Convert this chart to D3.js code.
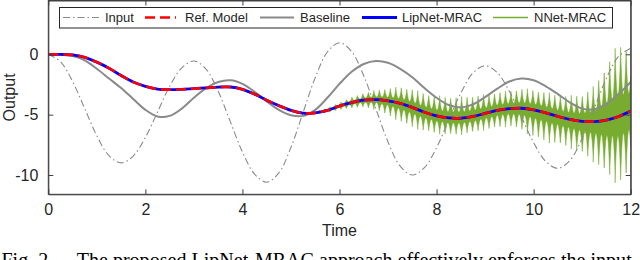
<!DOCTYPE html>
<html><head><meta charset="utf-8">
<script src="https://cdn.jsdelivr.net/npm/d3@7"></script>
<style>
html,body{margin:0;padding:0;background:#fff;overflow:hidden;}
svg{display:block;}
</style></head>
<body>
<svg id="chart" width="640" height="260"></svg>
<script>
// ---- data ----
const time = [0,0.25,0.5,0.75,1,1.25,1.5,1.75,2,2.25,2.5,2.75,3,3.25,3.5,3.75,4,4.25,4.5,4.75,5,5.25,5.5,5.75,6,6.25,6.5,6.75,7,7.25,7.5,7.75,8,8.25,8.5,8.75,9,9.25,9.5,9.75,10,10.25,10.5,10.75,11,11.25,11.5,11.75,12];
const inputSignal = [0,-0.6,-2.25,-4.5,-6.75,-8.4,-9.0,-8.43,-6.89,-4.78,-2.66,-1.12,-0.55,-1.22,-3.06,-5.58,-8.09,-9.93,-10.6,-9.83,-7.71,-4.82,-1.93,0.19,0.96,0.23,-1.78,-4.52,-7.26,-9.27,-10.0,-9.39,-7.73,-5.47,-3.21,-1.55,-0.94,-1.51,-3.07,-5.2,-7.32,-8.88,-9.45,-8.78,-6.96,-4.48,-1.99,-0.17,0.5];
const refModel = [0,-0.01,-0.05,-0.25,-0.65,-1.15,-1.75,-2.3,-2.65,-2.88,-2.93,-2.9,-2.84,-2.78,-2.72,-2.71,-2.9,-3.3,-3.8,-4.25,-4.65,-4.88,-4.85,-4.65,-4.28,-4.0,-3.8,-3.75,-3.85,-4.06,-4.4,-4.8,-5.1,-5.27,-5.3,-5.15,-4.9,-4.65,-4.5,-4.47,-4.6,-4.85,-5.15,-5.4,-5.55,-5.57,-5.45,-5.15,-4.7];
const baseline = [0,-0.02,-0.15,-0.5,-1.2,-2.0,-2.8,-3.7,-4.6,-5.15,-5.1,-4.5,-3.6,-2.8,-2.3,-2.15,-2.45,-3.1,-3.9,-4.6,-5.05,-5.1,-4.6,-3.6,-2.45,-1.45,-0.8,-0.55,-0.7,-1.2,-1.9,-2.8,-3.6,-4.2,-4.4,-4.15,-3.55,-2.85,-2.25,-2.0,-2.15,-2.65,-3.3,-4.0,-4.5,-4.55,-4.1,-3.3,-2.3];
const lipNet = refModel.slice();
// NNet-MRAC: tracks the reference, then a fast oscillation; its envelope is read below
const nnetTime   = [4.9,5.25,5.5,5.75,6,6.25,6.5,6.75,7,7.25,7.5,7.75,8,8.25,8.5,8.75,9,9.25,9.5,9.75,10,10.25,10.5,10.75,11,11.25,11.5,11.75,12];
const nnetTop    = [-4.57,-4.83,-4.73,-4.45,-4.0,-3.55,-3.2,-2.95,-2.8,-2.68,-2.85,-3.2,-3.4,-3.5,-3.5,-3.4,-3.3,-3.1,-3.0,-2.8,-2.9,-3.1,-3.35,-3.4,-3.3,-2.6,-0.8,1.0,0.6];
const nnetBottom = [-4.57,-4.93,-4.97,-4.85,-4.6,-4.45,-4.4,-4.6,-5.1,-5.6,-6.1,-6.4,-6.6,-6.7,-6.7,-6.5,-6.3,-6.1,-6.0,-6.3,-6.9,-7.3,-7.5,-7.8,-8.3,-9.0,-10.0,-10.9,-10.0];
const nnetBeatPeriod = 0.113;
const xTicks = [0,2,4,6,8,10,12];
const yTicks = [-10,-5,0];
const legendLabels = ["Input","Ref. Model","Baseline","LipNet-MRAC","NNet-MRAC"];

// ---- layout ----
const svg = d3.select("#chart");
const L = 48.3, R = 630.7, T = 0.5, B = 194.3;
const x = d3.scaleLinear().domain([0,12]).range([L,R]);
const y = d3.scaleLinear().domain([-11.6,4.5]).range([B,0]);
const font = "'Liberation Sans', Arial, Helvetica, sans-serif";
const axisCol = "#404040", textCol = "#262626";
const grayCol = "#8a8a8a", redCol = "#ff0000", blueCol = "#0000ff", greenCol = "#77ac30";

svg.append("defs").append("clipPath").attr("id","clip")
  .append("rect").attr("x",L).attr("y",T).attr("width",R-L).attr("height",B-T);

const plot = svg.append("g").attr("clip-path","url(#clip)");
const line = d3.line().x(d=>x(d[0])).y(d=>y(d[1])).curve(d3.curveCatmullRom.alpha(0.5));
const zipT = arr => time.map((t,i)=>[t,arr[i]]);

// NNet band: envelope from the arrays, modulated by the visible beat (pointed teeth)
const topS = d3.scaleLinear().domain(nnetTime).range(nnetTop).clamp(true);
const botS = d3.scaleLinear().domain(nnetTime).range(nnetBottom).clamp(true);
const refS = d3.scaleLinear().domain(time).range(refModel);
const band = [];
for(let t=nnetTime[0]; t<=12.0001; t+=0.004){
  const ph = Math.abs(Math.sin(Math.PI*(t-nnetTime[0])/nnetBeatPeriod));
  const m = 1 - 0.72*Math.pow(ph,0.7);
  const c = refS(t);
  band.push({t, hi: c + (topS(t)-c)*m, lo: c - (c-botS(t))*m});
}
plot.append("path").attr("d", d3.area().x(d=>x(d.t)).y0(d=>y(d.lo)).y1(d=>y(d.hi))(band))
  .attr("fill",greenCol).attr("stroke",greenCol).attr("stroke-width",0.5);
plot.append("path").attr("d",line(zipT(refModel).filter(d=>d[0]<=5))).attr("fill","none")
  .attr("stroke",greenCol).attr("stroke-width",1.2);

plot.append("path").attr("d",line(zipT(inputSignal))).attr("fill","none")
  .attr("stroke",grayCol).attr("stroke-width",1.1).attr("stroke-dasharray","7,3,1.5,3");
plot.append("path").attr("d",line(zipT(baseline))).attr("fill","none")
  .attr("stroke",grayCol).attr("stroke-width",2);
plot.append("path").attr("d",line(zipT(lipNet))).attr("fill","none")
  .attr("stroke",blueCol).attr("stroke-width",2.8);
plot.append("path").attr("d",line(zipT(refModel))).attr("fill","none")
  .attr("stroke",redCol).attr("stroke-width",2.6).attr("stroke-dasharray","10,5");

// ---- axes (box with inward ticks) ----
const tl = 5;
const fmt = d => String(d);
const gB = svg.append("g").attr("transform",`translate(0,${B})`)
  .call(d3.axisBottom(x).tickValues(xTicks).tickSizeInner(-tl).tickSizeOuter(0).tickPadding(9).tickFormat(fmt));
const gT = svg.append("g").attr("transform",`translate(0,${T})`)
  .call(d3.axisTop(x).tickValues(xTicks).tickSizeInner(-tl).tickSizeOuter(0).tickFormat(""));
const gL = svg.append("g").attr("transform",`translate(${L},0)`)
  .call(d3.axisLeft(y).tickValues(yTicks).tickSizeInner(-tl).tickSizeOuter(0).tickPadding(10).tickFormat(fmt));
const gR = svg.append("g").attr("transform",`translate(${R},0)`)
  .call(d3.axisRight(y).tickValues(yTicks).tickSizeInner(-tl).tickSizeOuter(0).tickFormat(""));
[gB,gT,gL,gR].forEach(g=>{
  g.selectAll(".domain").attr("stroke",axisCol).attr("stroke-width",1);
  g.selectAll(".tick line").attr("stroke",axisCol).attr("stroke-width",1);
  g.selectAll("text").attr("fill",textCol).style("font-family",font).style("font-size","16px");
});
svg.append("rect").attr("x",L).attr("y",T).attr("width",R-L).attr("height",B-T)
  .attr("fill","none").attr("stroke",axisCol).attr("stroke-width",1);

svg.append("text").attr("x",(L+R)/2).attr("y",235.8).attr("text-anchor","middle")
  .style("font-family",font).style("font-size","16px").attr("fill",textCol).text("Time");
svg.append("text").attr("transform",`translate(15,${(T+B)/2}) rotate(-90)`).attr("text-anchor","middle")
  .style("font-family",font).style("font-size","16px").attr("fill",textCol).text("Output");

// ---- legend ----
const lg = svg.append("g");
lg.append("rect").attr("x",59.5).attr("y",7.5).attr("width",553).attr("height",20.5)
  .attr("fill","#fff").attr("stroke",textCol).attr("stroke-width",1);
const items = [
  {x1:63,x2:100,tx:105,stroke:grayCol,w:1.1,dash:"7,3,1.5,3"},
  {x1:145,x2:176,tx:185,stroke:redCol,w:2.6,dash:"10,5"},
  {x1:260,x2:294,tx:300,stroke:grayCol,w:2,dash:null},
  {x1:362,x2:397,tx:402,stroke:blueCol,w:2.8,dash:null},
  {x1:493,x2:528,tx:534,stroke:greenCol,w:1.3,dash:null}
];
items.forEach((it,i)=>{
  lg.append("line").attr("x1",it.x1).attr("x2",it.x2).attr("y1",17.5).attr("y2",17.5)
    .attr("stroke",it.stroke).attr("stroke-width",it.w).attr("stroke-dasharray",it.dash);
  lg.append("text").attr("x",it.tx).attr("y",22.2).style("font-family",font).style("font-size","13px")
    .attr("fill",textCol).text(legendLabels[i]);
});

// ---- caption (cut by the bottom edge, as in the reference) ----
const serif = "'Liberation Serif','Times New Roman',Times,serif";
svg.append("text").attr("x",1.5).attr("y",266.8).style("font-family",serif).style("font-size","20px")
  .attr("fill","#000").text("Fig. 2.");
svg.append("text").attr("x",76.7).attr("y",266.8).style("font-family",serif).style("font-size","20px")
  .attr("fill","#000").attr("textLength",555).attr("lengthAdjust","spacing")
  .text("The proposed LipNet-MRAC approach effectively enforces the input");
</script>
</body></html>
